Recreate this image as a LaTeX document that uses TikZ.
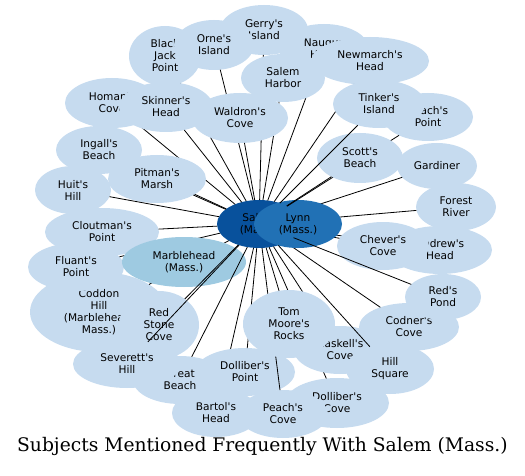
\documentclass[tikz,border=0pt]{standalone}
\usepackage{fontspec}
\setmainfont{DejaVu Sans}[Ligatures=TeXOff]
\newfontfamily\titlefont{DejaVu Serif}[Ligatures=TeXOff]
\usetikzlibrary{shapes.geometric}
\definecolor{blueA}{HTML}{C6DBEF}
\definecolor{blueB}{HTML}{9ECAE1}
\definecolor{blueC}{HTML}{2171B5}
\definecolor{blueD}{HTML}{08519C}
\begin{document}
\begin{tikzpicture}[x=1pt, y=-1pt,
  place/.style={ellipse, fill=blueA, draw=none, inner sep=0pt, outer sep=0pt, align=center, font=\fontsize{10.6}{12}\selectfont},
  wh/.style 2 args={minimum width=#1pt, minimum height=#2pt},
  link/.style={line width=0.8pt}]
  \useasboundingbox (0,0) rectangle (525,476);
  \node[place, wh={84}{48}, fill=blueD] (salem) at (259,224) {Salem\\(Mass.)};
  \node[place, wh={104}{48}] (andrews) at (440,250) {Andrew's\\Head};
  \draw[link] (salem) -- (andrews);
  \node[place, wh={92}{48}] (chevers) at (383,246) {Chever's\\Cove};
  \draw[link] (salem) -- (chevers);
  \node[place, wh={80}{48}] (forest) at (456,207) {Forest\\River};
  \draw[link] (salem) -- (forest);
  \node[place, wh={80}{46}] (gardiner) at (437,166) {Gardiner};
  \draw[link] (salem) -- (gardiner);
  \node[place, wh={100}{48}] (codners) at (409,327) {Codner's\\Cove};
  \draw[link] (salem) -- (codners);
  \node[place, wh={88}{48}, fill=blueC] (lynn) at (298,224) {Lynn\\(Mass.)};
  \node[place, wh={76}{46}] (reds) at (443,297) {Red's\\Pond};
  \draw[link] (salem) -- (reds);
  \node[place, wh={90}{50}] (naugus) at (324,49) {Naugus\\Head};
  \draw[link] (salem) -- (naugus);
  \node[place, wh={118}{48}] (newmarch) at (370,61) {Newmarch's\\Head};
  \draw[link] (salem) -- (newmarch);
  \node[place, wh={88}{50}] (gerrys) at (264,30) {Gerry's\\Island};
  \draw[link] (salem) -- (gerrys);
  \node[place, wh={84}{48}] (harbor) at (283,78) {Salem\\Harbor};
  \draw[link] (salem) -- (harbor);
  \node[place, wh={90}{48}] (peachpt) at (428,117) {Peach's\\Point};
  \draw[link] (salem) -- (peachpt);
  \node[place, wh={86}{50}] (scotts) at (360,158) {Scott's\\Beach};
  \draw[link] (salem) -- (scotts);
  \node[place, wh={92}{48}] (tinkers) at (379,104) {Tinker's\\Island};
  \draw[link] (salem) -- (tinkers);
  \node[place, wh={72}{60}] (blackjack) at (165,56) {Black\\Jack\\Point};
  \draw[link] (salem) -- (blackjack);
  \node[place, wh={80}{50}] (ornes) at (214,45) {Orne's\\Island};
  \draw[link] (salem) -- (ornes);
  \node[place, wh={94}{50}] (homans) at (112,103) {Homan's\\Cove};
  \draw[link] (salem) -- (homans);
  \node[place, wh={94}{50}] (skinners) at (166,107) {Skinner's\\Head};
  \draw[link] (salem) -- (skinners);
  \node[place, wh={96}{50}] (waldrons) at (240,118) {Waldron's\\Cove};
  \draw[link] (salem) -- (waldrons);
  \node[place, wh={86}{48}] (ingalls) at (99,150) {Ingall's\\Beach};
  \draw[link] (salem) -- (ingalls);
  \node[place, wh={98}{48}] (pitmans) at (157,179) {Pitman's\\Marsh};
  \draw[link] (salem) -- (pitmans);
  \node[place, wh={76}{48}] (huits) at (73,190) {Huit's\\Hill};
  \draw[link] (salem) -- (huits);
  \node[place, wh={114}{48}] (cloutmans) at (102,232) {Cloutman's\\Point};
  \draw[link] (salem) -- (cloutmans);
  \node[place, wh={138}{80}] (coddon) at (99,312) {Coddon\\Hill\\(Marblehead,\\Mass.)};
  \draw[link] (salem) -- (coddon);
  \node[place, wh={96}{48}] (fluants) at (76,267) {Fluant's\\Point};
  \draw[link] (salem) -- (fluants);
  \node[place, wh={124}{50}, fill=blueB] (marblehead) at (184,262) {Marblehead\\(Mass.)};
  \node[place, wh={80}{68}] (redstone) at (159,325) {Red\\Stone\\Cove};
  \draw[link] (salem) -- (redstone);
  \node[place, wh={88}{48}] (bartols) at (216,413) {Bartol's\\Head};
  \draw[link] (salem) -- (bartols);
  \node[place, wh={94}{48}] (beach) at (180,380) {Great\\Beach};
  \draw[link] (salem) -- (beach);
  \node[place, wh={108}{48}] (severetts) at (127,364) {Severett's\\Hill};
  \draw[link] (salem) -- (severetts);
  \node[place, wh={100}{48}] (dpoint) at (245,372) {Dolliber's\\Point};
  \draw[link] (salem) -- (dpoint);
  \node[place, wh={104}{50}] (dcove) at (337,403) {Dolliber's\\Cove};
  \draw[link] (salem) -- (dcove);
  \node[place, wh={90}{48}] (peachcove) at (283,414) {Peach's\\Cove};
  \draw[link] (salem) -- (peachcove);
  \node[place, wh={92}{48}] (haskells) at (340,350) {Haskell's\\Cove};
  \draw[link] (salem) -- (haskells);
  \node[place, wh={92}{68}] (tommoore) at (289,324) {Tom\\Moore's\\Rocks};
  \draw[link] (salem) -- (tommoore);
  \node[place, wh={88}{50}] (hillsq) at (390,369) {Hill\\Square};
  \draw[link] (salem) -- (hillsq);
  \node[anchor=base, inner sep=0pt, font=\titlefont\fontsize{18.7}{22}\selectfont] (title) at (262.4,451) {Subjects Mentioned Frequently With Salem (Mass.)};
\end{tikzpicture}
\end{document}
